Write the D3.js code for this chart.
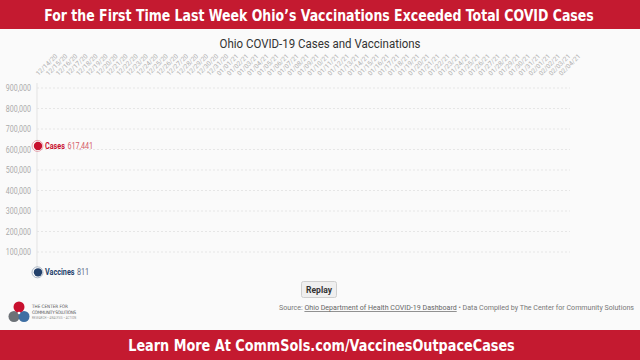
<!DOCTYPE html>
<html><head><meta charset="utf-8">
<script src="https://cdn.jsdelivr.net/npm/d3@7/dist/d3.min.js"></script>
<style>
html,body{margin:0;padding:0;background:#fafafa;}
svg{display:block;font-family:Roboto,"Noto Sans",sans-serif;}
</style></head><body>
<svg id="c" width="640" height="360"></svg>
<script>
const headline = "For the First Time Last Week Ohio\u2019s Vaccinations Exceeded Total COVID Cases";
const footerText = "Learn More At CommSols.com/VaccinesOutpaceCases";
const chartTitle = "Ohio COVID-19 Cases and Vaccinations";
const dates = ["12/14/20","12/15/20","12/16/20","12/17/20","12/18/20","12/19/20","12/20/20","12/21/20","12/22/20","12/23/20","12/24/20","12/25/20","12/26/20","12/27/20","12/28/20","12/29/20","12/30/20","12/31/20",
"01/01/21","01/02/21","01/03/21","01/04/21","01/05/21","01/06/21","01/07/21","01/08/21","01/09/21","01/10/21","01/11/21","01/12/21","01/13/21","01/14/21","01/15/21","01/16/21","01/17/21","01/18/21","01/19/21","01/20/21","01/21/21","01/22/21","01/23/21","01/24/21","01/25/21","01/26/21","01/27/21","01/28/21","01/29/21","01/30/21","01/31/21",
"02/01/21","02/02/21","02/03/21","02/04/21"];
// Only the first frame of the animation is visible
const cases = [617441];
const vaccines = [811];
const yTicks = [100000,200000,300000,400000,500000,600000,700000,800000,900000];
const seriesNames = ["Cases","Vaccines"];

const svg = d3.select("#c");
const W = 640, H = 360;
const red = "#c41a30";

function squeeze(sel, factor){
  sel.each(function(){
    const len = this.getComputedTextLength();
    d3.select(this).attr("textLength", len*factor).attr("lengthAdjust","spacingAndGlyphs");
  });
}
// place centred text scaled horizontally to a given width
function fitBanner(txt, cx, by, width){
  const g = svg.append("g");
  const t = g.append("text").attr("x",0).attr("y",0).attr("text-anchor","middle")
    .attr("font-family","'Liberation Sans Narrow','DejaVu Sans Condensed','Open Sans',sans-serif")
    .attr("font-weight","bold").attr("font-size",16.5).attr("fill","#fff").text(txt);
  const len = t.node().getComputedTextLength();
  g.attr("transform",`translate(${cx},${by}) scale(${width/len},1)`);
}
// left-anchored text compressed horizontally; returns rendered width
function narrowText(txt, x0, by, size, weight, color, k){
  const g = svg.append("g").attr("transform",`translate(${x0},${by}) scale(${k},1)`);
  const t = g.append("text").attr("x",0).attr("y",0).attr("font-size",size)
    .attr("font-weight",weight).attr("fill",color).text(txt);
  return t.node().getComputedTextLength()*k;
}

// banners
svg.append("rect").attr("x",0).attr("y",0).attr("width",W).attr("height",29).attr("fill",red);
fitBanner(headline, 319, 20.5, 550);
svg.append("rect").attr("x",0).attr("y",330).attr("width",W).attr("height",30).attr("fill",red);
fitBanner(footerText, 321.5, 351, 387);

// chart title
svg.append("text").attr("x",320).attr("y",48).attr("text-anchor","middle")
  .attr("font-size",12.5).attr("fill","#333").attr("textLength",201).attr("lengthAdjust","spacingAndGlyphs")
  .text(chartTitle);

const x = d3.scalePoint().domain(dates).range([38,561]);
const y = d3.scaleLinear().domain([0,900000]).range([272.5,88]);

// gridlines
svg.append("g").selectAll("line").data(yTicks).join("line")
  .attr("x1",37).attr("x2",570).attr("y1",d=>y(d)).attr("y2",d=>y(d))
  .attr("stroke","#e6e6e6").attr("stroke-width",1).attr("stroke-dasharray","2,2");
// y axis line
svg.append("line").attr("x1",37).attr("x2",37).attr("y1",83).attr("y2",267).attr("stroke","#e3e3e3");

// y axis
const ya = svg.append("g").attr("transform","translate(32,0)")
  .call(d3.axisLeft(y).tickValues(yTicks).tickFormat(d3.format(",")).tickSize(0).tickPadding(1));
ya.select(".domain").remove();
ya.selectAll("text").attr("font-size",8.5).attr("fill","#aaa").attr("font-family","Roboto,sans-serif");
squeeze(ya.selectAll("text"), 0.83);

// x axis (top)
const xa = svg.append("g").attr("transform","translate(0,76)")
  .call(d3.axisTop(x).tickSize(0).tickPadding(0));
xa.select(".domain").remove();
xa.selectAll("text").attr("font-size",6.5).attr("fill","#b0b0b0").attr("font-family","Roboto,sans-serif")
  .attr("text-anchor","start").attr("transform","rotate(-45)").attr("dx",0).attr("dy",0).attr("x",0).attr("y",0);

// series
const series = [
  {name:seriesNames[0], values:cases, color:"#c8102e", valColor:"#d45a68"},
  {name:seriesNames[1], values:vaccines, color:"#23416b", valColor:"#5a6c86"}
];
const line = d3.line().x((d,i)=>x(dates[i])).y(d=>y(d));
series.forEach(s=>{
  svg.append("path").datum(s.values).attr("d",line).attr("fill","none").attr("stroke",s.color).attr("stroke-width",2);
  const i = s.values.length-1, v = s.values[i];
  const cx = x(dates[i]), cy = y(v);
  svg.append("circle").attr("cx",cx-0.5).attr("cy",cy).attr("r",5.5).attr("fill","none")
    .attr("stroke",s.color).attr("stroke-opacity",0.35).attr("stroke-width",1);
  svg.append("circle").attr("cx",cx).attr("cy",cy).attr("r",4.2).attr("fill",s.color);
  const nw = narrowText(s.name, cx+7, cy+3, 8.5, "bold", s.color, 0.85);
  narrowText(d3.format(",")(v), cx+7+nw+2.5, cy+3, 8.5, "normal", s.valColor, 0.85);
});

// replay button
svg.append("rect").attr("x",301.5).attr("y",281.5).attr("width",35).attr("height",16).attr("rx",2)
  .attr("fill","#efefef").attr("stroke","#cfcfcf");
svg.append("text").attr("x",319).attr("y",292.5).attr("text-anchor","middle").attr("font-size",8.5)
  .attr("font-weight","bold").attr("fill","#333").text("Replay");

// source
const src = svg.append("text").attr("x",634).attr("y",310).attr("text-anchor","end").attr("font-size",8.5).attr("fill","#777");
src.append("tspan").text("Source: ");
src.append("tspan").attr("text-decoration","underline").attr("fill","#666").text("Ohio Department of Health COVID-19 Dashboard");
src.append("tspan").text(" \u2022 Data Compiled by The Center for Community Solutions");
{
  const len = src.node().getComputedTextLength();
  src.attr("font-size", 8.5*356/len);
}

// logo
const lg = svg.append("g");
lg.append("circle").attr("cx",14).attr("cy",316.5).attr("r",5.5).attr("fill","#6d7277");
lg.append("circle").attr("cx",24).attr("cy",316.5).attr("r",5.5).attr("fill","#3f6fa3");
lg.append("circle").attr("cx",19).attr("cy",307).attr("r",5.5).attr("fill","#c8102e");
lg.append("circle").attr("cx",19).attr("cy",313).attr("r",1.3).attr("fill","#fff");
lg.append("text").attr("x",32).attr("y",308).attr("font-size",4.6).attr("fill","#555")
  .attr("font-family","'Liberation Sans Narrow','DejaVu Sans Condensed',sans-serif").text("THE CENTER FOR");
lg.append("text").attr("x",32).attr("y",313.5).attr("font-size",4.6).attr("fill","#555")
  .attr("font-family","'Liberation Sans Narrow','DejaVu Sans Condensed',sans-serif").attr("textLength",44).text("COMMUNITY SOLUTIONS");
lg.append("text").attr("x",32).attr("y",318.5).attr("font-size",2.6).attr("fill","#888")
  .attr("textLength",44).text("RESEARCH \u2022 ANALYSIS \u2022 ACTION");
</script>
</body></html>
